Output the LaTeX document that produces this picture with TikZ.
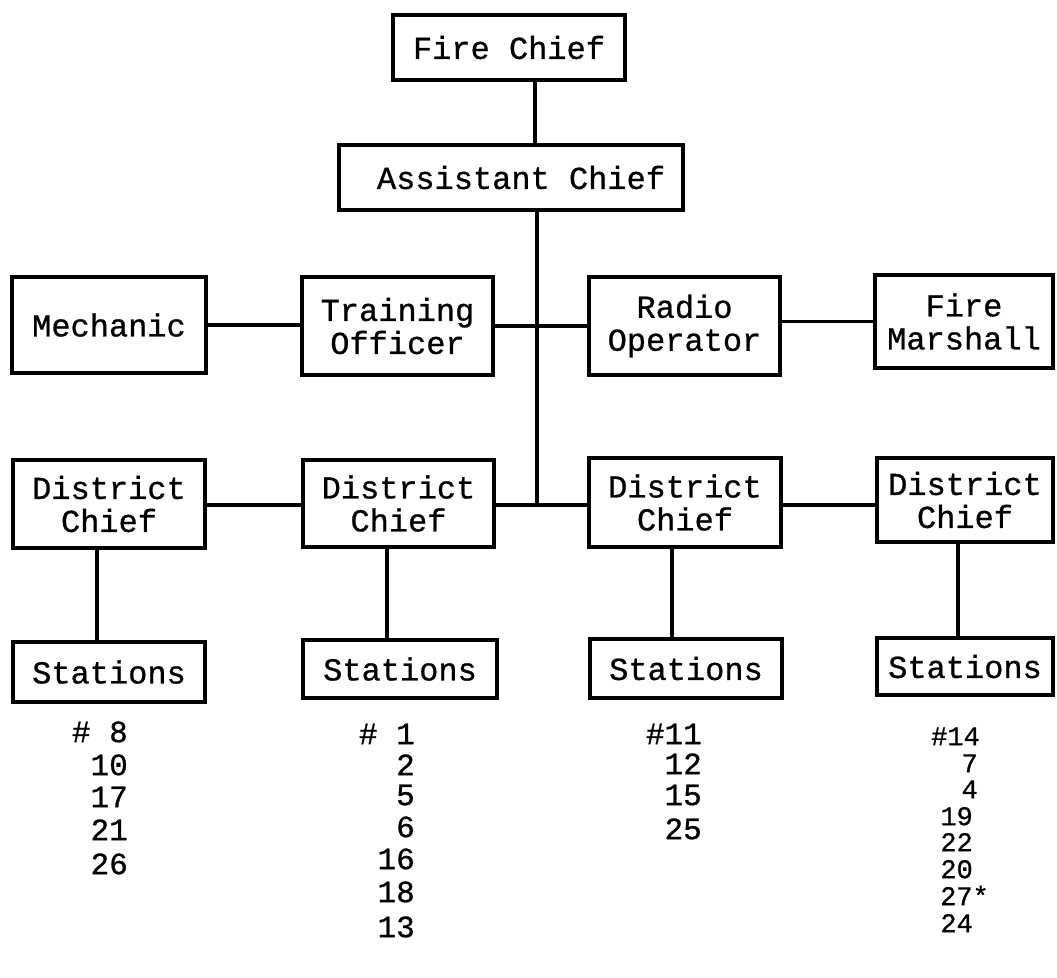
\documentclass[tikz,border=0pt]{standalone}
\usepackage{fontspec}
\newfontfamily\tw{Liberation Mono}[FakeBold=0.8]
\begin{document}
\begin{tikzpicture}[x=1pt,y=-1pt,
  orgbox/.style={draw, line width=3.2pt, inner sep=0pt, align=center,
    font=\tw\fontsize{32}{33}\selectfont},
  conn/.style={line width=3.2pt},
  num/.style={inner sep=0pt, anchor=mid east, font=\tw\fontsize{31}{31}\selectfont},
  numsm/.style={num, font=\tw\fontsize{27}{27}\selectfont}]
\useasboundingbox (0,0) rectangle (1057,977);
% top
\node[orgbox, minimum width=232, minimum height=65] (fc) at (509,47.5) {Fire Chief};
\node[orgbox, minimum width=344, minimum height=65] (ac) at (511,177.5) {\hspace*{20pt}Assistant Chief};
% second row
\node[orgbox, minimum width=194, minimum height=96] (mech) at (109,325) {Mechanic};
\node[orgbox, minimum width=191, minimum height=98] (train) at (397.5,326) {\raisebox{-6pt}{\parbox{180pt}{\centering Training\\Officer}}};
\node[orgbox, minimum width=191, minimum height=98] (radio) at (684.5,326) {\raisebox{-6pt}{\parbox{180pt}{\centering Radio\\Operator}}};
\node[orgbox, minimum width=178, minimum height=93] (fm) at (964,321.5) {\raisebox{-4pt}{\parbox{170pt}{\centering Fire\\Marshall}}};
% district row
\node[orgbox, minimum width=192, minimum height=88] (dc1) at (109,504) {\raisebox{-3pt}{\parbox{180pt}{\centering District\\Chief}}};
\node[orgbox, minimum width=191, minimum height=87] (dc2) at (398.5,503.5) {\raisebox{-3pt}{\parbox{180pt}{\centering District\\Chief}}};
\node[orgbox, minimum width=192, minimum height=89] (dc3) at (685,502.5) {\raisebox{-3pt}{\parbox{180pt}{\centering District\\Chief}}};
\node[orgbox, minimum width=176, minimum height=84] (dc4) at (965,500) {\raisebox{-2pt}{\parbox{170pt}{\centering District\\Chief}}};
% stations
\node[orgbox, minimum width=192, minimum height=60] (st1) at (109,672) {Stations};
\node[orgbox, minimum width=194, minimum height=58] (st2) at (400,669) {Stations};
\node[orgbox, minimum width=192, minimum height=59] (st3) at (686,668.5) {Stations};
\node[orgbox, minimum width=176, minimum height=57] (st4) at (965,666.5) {Stations};
% junctions
\coordinate (j1) at (537,326);
\coordinate (j2) at (537,505);
% connectors
\draw[conn] ([xshift=26pt]fc.south) -- ([xshift=26pt]fc.south |- ac.north);
\draw[conn] (ac.south -| j1) -- (j2);
\draw[conn] (mech.east) -- (train.west |- mech.east);
\draw[conn] (train.east) -- (radio.west);
\draw[conn] (radio.east |- fm.west) -- (fm.west);
\draw[conn] (dc1.east |- j2) -- (dc2.west |- j2);
\draw[conn] (dc2.east |- j2) -- (dc3.west |- j2);
\draw[conn] (dc3.east |- j2) -- (dc4.west |- j2);
\draw[conn] ([xshift=-12pt]dc1.south) -- ([xshift=-12pt]st1.north);
\draw[conn] ([xshift=-11.5pt]dc2.south) -- ([xshift=-11.5pt]dc2.south |- st2.north);
\draw[conn] ([xshift=-13pt]dc3.south) -- ([xshift=-13pt]dc3.south |- st3.north);
\draw[conn] ([xshift=-7pt]dc4.south) -- ([xshift=-7pt]st4.north);
% station numbers
\node[num] (n1a) at (128,740) {\# 8};
\node[num] (n1b) at (128,773) {10};
\node[num] (n1c) at (128,805) {17};
\node[num] (n1d) at (128,838) {21};
\node[num] (n1e) at (128,872) {26};
\node[num] (n2a) at (415,742) {\# 1};
\node[num] (n2b) at (415,773) {2};
\node[num] (n2c) at (415,803) {5};
\node[num] (n2d) at (415,835) {6};
\node[num] (n2e) at (415,867) {16};
\node[num] (n2f) at (415,900) {18};
\node[num] (n2g) at (415,935) {13};
\node[num] (n3a) at (702,742) {\#11};
\node[num] (n3b) at (702,772) {12};
\node[num] (n3c) at (702,803) {15};
\node[num] (n3d) at (702,837) {25};
\node[numsm] (n4a) at (980,743) {\#14};
\node[numsm] (n4b) at (978,770) {7};
\node[numsm] (n4c) at (978,796) {4};
\node[numsm] (n4d) at (973,823) {19};
\node[numsm] (n4e) at (973,849) {22};
\node[numsm] (n4f) at (973,876) {20};
\node[numsm] (n4g) at (989,903) {27*};
\node[numsm] (n4h) at (973,930) {24};
\end{tikzpicture}
\end{document}
